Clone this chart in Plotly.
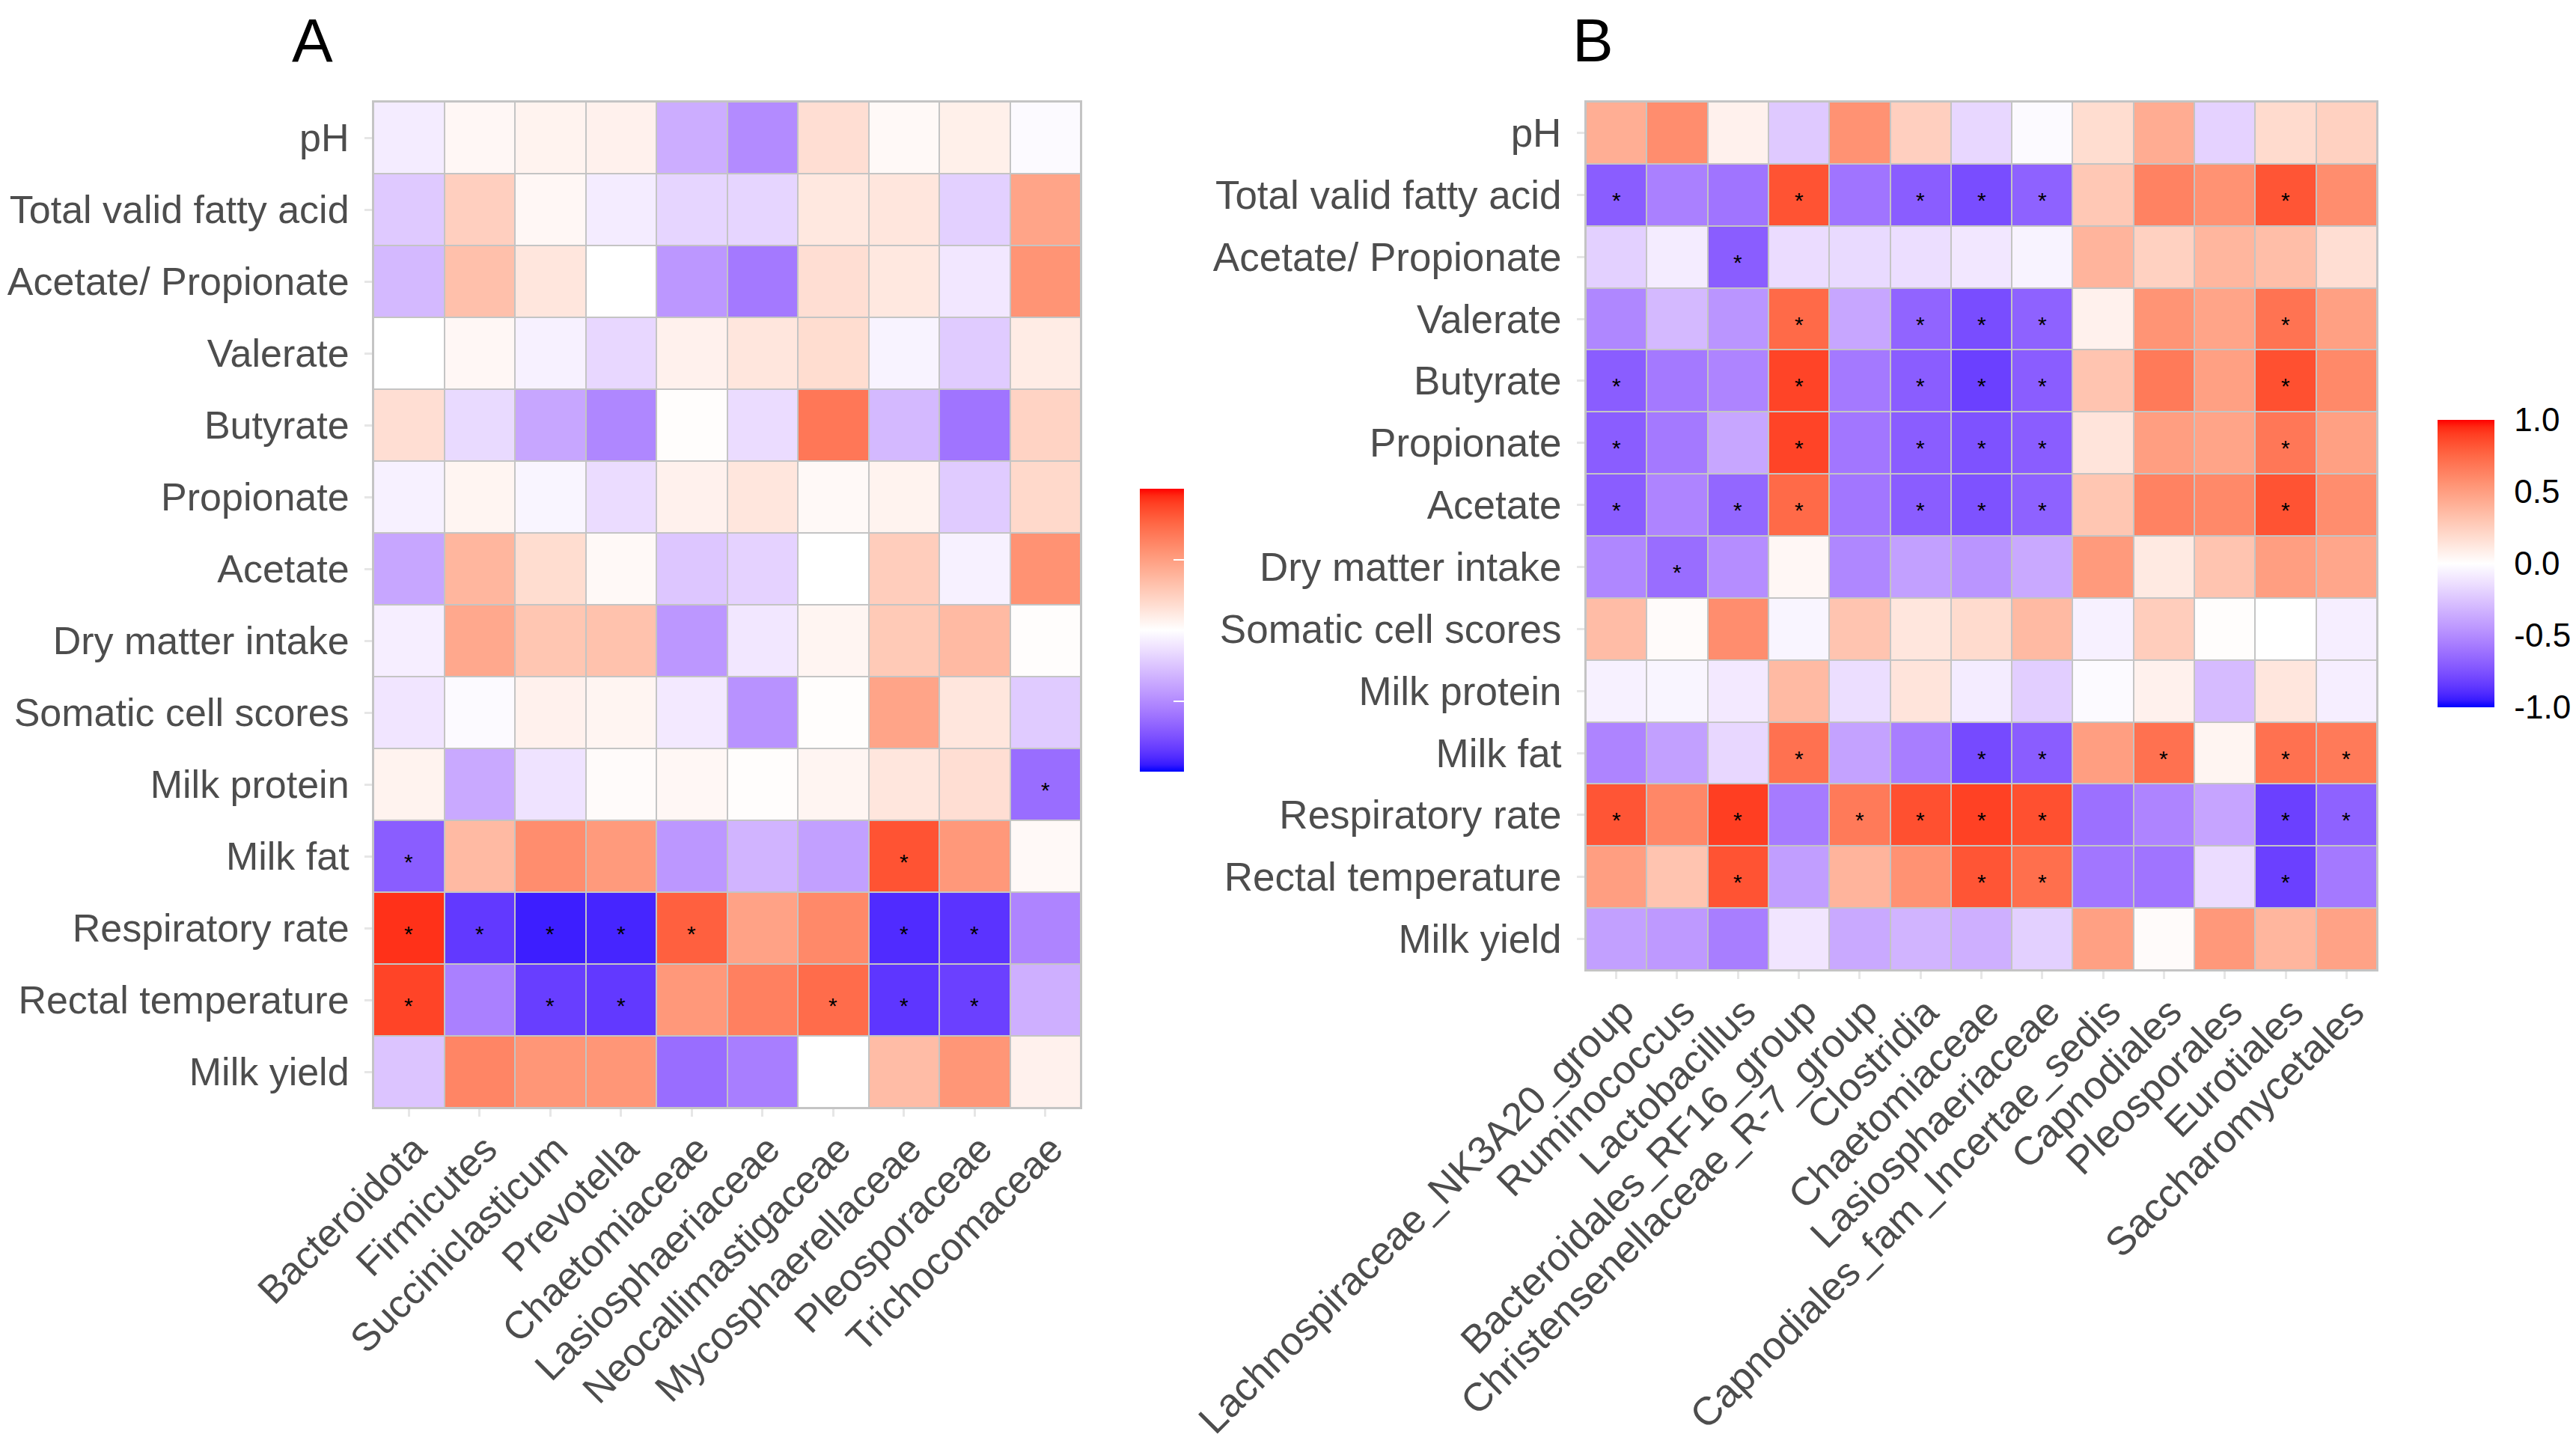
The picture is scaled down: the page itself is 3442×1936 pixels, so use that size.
import plotly.graph_objects as go

W, H = 3442, 1936

traits = ["pH", "Total valid fatty acid", "Acetate/ Propionate", "Valerate", "Butyrate",
          "Propionate", "Acetate", "Dry matter intake", "Somatic cell scores", "Milk protein",
          "Milk fat", "Respiratory rate", "Rectal temperature", "Milk yield"]

genera_a = ["Bacteroidota", "Firmicutes", "Succiniclasticum", "Prevotella", "Chaetomiaceae",
            "Lasiosphaeriaceae", "Neocallimastigaceae", "Mycosphaerellaceae", "Pleosporaceae",
            "Trichocomaceae"]

genera_b = ["Lachnospiraceae_NK3A20_group", "Ruminococcus", "Lactobacillus",
            "Bacteroidales_RF16_group", "Christensenellaceae_R-7_group", "Clostridia",
            "Chaetomiaceae", "Lasiosphaeriaceae", "Capnodiales_fam_Incertae_sedis",
            "Capnodiales", "Pleosporales", "Eurotiales", "Saccharomycetales"]

values_a = [
    [-0.08, 0.04, 0.06, 0.07, -0.35, -0.50, 0.17, 0.03, 0.08, -0.02],
    [-0.23, 0.25, 0.04, -0.08, -0.18, -0.18, 0.12, 0.13, -0.20, 0.47],
    [-0.30, 0.33, 0.13, 0.00, -0.45, -0.58, 0.17, 0.12, -0.10, 0.55],
    [0.00, 0.04, -0.06, -0.17, 0.07, 0.13, 0.18, -0.05, -0.22, 0.10],
    [0.17, -0.16, -0.38, -0.52, 0.01, -0.15, 0.68, -0.30, -0.60, 0.23],
    [-0.06, 0.05, -0.04, -0.15, 0.07, 0.13, 0.03, 0.06, -0.22, 0.20],
    [-0.38, 0.38, 0.18, 0.03, -0.24, -0.19, 0.00, 0.26, -0.06, 0.56],
    [-0.07, 0.45, 0.30, 0.32, -0.45, -0.10, 0.05, 0.28, 0.36, 0.01],
    [-0.11, -0.02, 0.07, 0.05, -0.09, -0.47, 0.01, 0.47, 0.13, -0.22],
    [0.06, -0.37, -0.12, 0.02, 0.04, 0.01, 0.05, 0.13, 0.17, -0.63],
    [-0.70, 0.36, 0.58, 0.52, -0.45, -0.32, -0.41, 0.83, 0.53, 0.03],
    [0.93, -0.85, -0.94, -0.92, 0.78, 0.48, 0.60, -0.90, -0.87, -0.53],
    [0.88, -0.55, -0.83, -0.85, 0.53, 0.64, 0.73, -0.86, -0.82, -0.34],
    [-0.25, 0.62, 0.54, 0.54, -0.63, -0.56, 0.00, 0.35, 0.54, 0.07],
]

sig_a = [
    [0, 0, 0, 0, 0, 0, 0, 0, 0, 0],
    [0, 0, 0, 0, 0, 0, 0, 0, 0, 0],
    [0, 0, 0, 0, 0, 0, 0, 0, 0, 0],
    [0, 0, 0, 0, 0, 0, 0, 0, 0, 0],
    [0, 0, 0, 0, 0, 0, 0, 0, 0, 0],
    [0, 0, 0, 0, 0, 0, 0, 0, 0, 0],
    [0, 0, 0, 0, 0, 0, 0, 0, 0, 0],
    [0, 0, 0, 0, 0, 0, 0, 0, 0, 0],
    [0, 0, 0, 0, 0, 0, 0, 0, 0, 0],
    [0, 0, 0, 0, 0, 0, 0, 0, 0, 1],
    [1, 0, 0, 0, 0, 0, 0, 1, 0, 0],
    [1, 1, 1, 1, 1, 0, 0, 1, 1, 0],
    [1, 0, 1, 1, 0, 0, 1, 1, 1, 0],
    [0, 0, 0, 0, 0, 0, 0, 0, 0, 0],
]

values_b = [
    [0.42, 0.58, 0.07, -0.23, 0.56, 0.25, -0.17, -0.02, 0.18, 0.43, -0.19, 0.19, 0.24],
    [-0.70, -0.55, -0.60, 0.83, -0.60, -0.70, -0.77, -0.68, 0.29, 0.63, 0.56, 0.82, 0.58],
    [-0.20, -0.08, -0.70, -0.15, -0.16, -0.14, -0.10, -0.05, 0.39, 0.24, 0.38, 0.34, 0.17],
    [-0.52, -0.30, -0.46, 0.74, -0.38, -0.67, -0.77, -0.68, 0.07, 0.55, 0.47, 0.70, 0.49],
    [-0.70, -0.58, -0.53, 0.88, -0.58, -0.70, -0.82, -0.70, 0.31, 0.67, 0.49, 0.84, 0.60],
    [-0.70, -0.58, -0.38, 0.88, -0.59, -0.70, -0.75, -0.70, 0.14, 0.50, 0.47, 0.68, 0.49],
    [-0.70, -0.53, -0.66, 0.74, -0.59, -0.70, -0.75, -0.68, 0.30, 0.63, 0.60, 0.83, 0.58],
    [-0.52, -0.63, -0.49, 0.04, -0.52, -0.41, -0.46, -0.37, 0.52, 0.11, 0.31, 0.50, 0.46],
    [0.35, 0.02, 0.58, -0.04, 0.31, 0.13, 0.19, 0.36, -0.06, 0.26, 0.01, 0.00, -0.07],
    [-0.06, -0.04, -0.09, 0.36, -0.14, 0.14, -0.08, -0.21, -0.02, 0.07, -0.29, 0.13, -0.07],
    [-0.53, -0.41, -0.17, 0.71, -0.40, -0.56, -0.78, -0.70, 0.50, 0.71, 0.05, 0.71, 0.67],
    [0.82, 0.61, 0.90, -0.57, 0.67, 0.84, 0.89, 0.84, -0.62, -0.53, -0.39, -0.82, -0.68],
    [0.50, 0.31, 0.83, -0.42, 0.39, 0.56, 0.82, 0.72, -0.59, -0.60, -0.15, -0.82, -0.58],
    [-0.41, -0.44, -0.56, -0.11, -0.37, -0.32, -0.34, -0.20, 0.49, 0.02, 0.53, 0.38, 0.48],
]

sig_b = [
    [0, 0, 0, 0, 0, 0, 0, 0, 0, 0, 0, 0, 0],
    [1, 0, 0, 1, 0, 1, 1, 1, 0, 0, 0, 1, 0],
    [0, 0, 1, 0, 0, 0, 0, 0, 0, 0, 0, 0, 0],
    [0, 0, 0, 1, 0, 1, 1, 1, 0, 0, 0, 1, 0],
    [1, 0, 0, 1, 0, 1, 1, 1, 0, 0, 0, 1, 0],
    [1, 0, 0, 1, 0, 1, 1, 1, 0, 0, 0, 1, 0],
    [1, 0, 1, 1, 0, 1, 1, 1, 0, 0, 0, 1, 0],
    [0, 1, 0, 0, 0, 0, 0, 0, 0, 0, 0, 0, 0],
    [0, 0, 0, 0, 0, 0, 0, 0, 0, 0, 0, 0, 0],
    [0, 0, 0, 0, 0, 0, 0, 0, 0, 0, 0, 0, 0],
    [0, 0, 0, 1, 0, 0, 1, 1, 0, 1, 0, 1, 1],
    [1, 0, 1, 0, 1, 1, 1, 1, 0, 0, 0, 1, 1],
    [0, 0, 1, 0, 0, 0, 1, 1, 0, 0, 0, 1, 0],
    [0, 0, 0, 0, 0, 0, 0, 0, 0, 0, 0, 0, 0],
]

colorbar_ticks = [-1.0, -0.5, 0.0, 0.5, 1.0]
colorbar_labels = ["-1.0", "-0.5", "0.0", "0.5", "1.0"]


# ---- Lab-interpolated blue-white-red gradient (like ggplot scale_fill_gradient2) ----
def _lin(c):
    c = c / 255.0
    return c / 12.92 if c <= 0.04045 else ((c + 0.055) / 1.055) ** 2.4


def _gam(c):
    c = max(0.0, min(1.0, c))
    v = 12.92 * c if c <= 0.0031308 else 1.055 * c ** (1 / 2.4) - 0.055
    return int(round(v * 255))


def rgb_to_lab(rgb):
    r, g, b = (_lin(v) for v in rgb)
    X = (0.4124 * r + 0.3576 * g + 0.1805 * b) / 0.95047
    Y = (0.2126 * r + 0.7152 * g + 0.0722 * b)
    Z = (0.0193 * r + 0.1192 * g + 0.9505 * b) / 1.08883

    def f(t):
        return t ** (1 / 3) if t > 0.008856 else 7.787 * t + 16 / 116
    fx, fy, fz = f(X), f(Y), f(Z)
    return (116 * fy - 16, 500 * (fx - fy), 200 * (fy - fz))


def lab_to_rgb(lab):
    L, a, b = lab
    fy = (L + 16) / 116
    fx = fy + a / 500
    fz = fy - b / 200

    def finv(t):
        return t ** 3 if t ** 3 > 0.008856 else (t - 16 / 116) / 7.787
    X, Y, Z = 0.95047 * finv(fx), finv(fy), 1.08883 * finv(fz)
    r = 3.2406 * X - 1.5372 * Y - 0.4986 * Z
    g = -0.9689 * X + 1.8758 * Y + 0.0415 * Z
    bb = 0.0557 * X - 0.2040 * Y + 1.0570 * Z
    return "rgb(%d,%d,%d)" % (_gam(r), _gam(g), _gam(bb))


lab_w = rgb_to_lab((255, 255, 255))
lab_b = rgb_to_lab((0, 0, 255))
lab_r = rgb_to_lab((255, 0, 0))
colorscale = []
N = 40
for i in range(N + 1):
    p = i / N
    v = -1 + 2 * p
    end = lab_b if v < 0 else lab_r
    t = abs(v)
    lab = tuple(lab_w[k] + t * (end[k] - lab_w[k]) for k in range(3))
    colorscale.append([p, lab_to_rgb(lab)])

FONT = "Liberation Sans, Arial, sans-serif"
LAB_COLOR = "#4D4D4D"
GRID = "#C4C4C4"

fig = go.Figure()
fig.add_trace(go.Heatmap(z=values_a, x=genera_a, y=traits, coloraxis="coloraxis",
                         xgap=2, ygap=2, xaxis="x", yaxis="y", hoverinfo="skip"))
fig.add_trace(go.Heatmap(z=values_b, x=genera_b, y=traits, coloraxis="coloraxis2",
                         xgap=2, ygap=2, xaxis="x2", yaxis="y2", hoverinfo="skip"))


def xax(dom, anchor, fs):
    return dict(domain=dom, anchor=anchor, type="category", showgrid=False, zeroline=False,
                automargin=False,
                showline=True, mirror=True, linecolor=GRID, linewidth=2,
                ticks="outside", ticklen=10, tickwidth=3, tickcolor="#E6E6E6",
                tickangle=-45, ticklabelstandoff=-8, ticklabelshift=8,
                tickfont=dict(family=FONT, size=fs, color=LAB_COLOR))


def yax(dom, anchor, fs):
    return dict(domain=dom, anchor=anchor, type="category", autorange="reversed",
                showgrid=False, zeroline=False, automargin=False,
                showline=True, mirror=True, linecolor=GRID, linewidth=2,
                ticks="outside", ticklen=10, tickwidth=3, tickcolor="#E6E6E6",
                ticklabelstandoff=10,
                tickfont=dict(family=FONT, size=fs, color=LAB_COLOR))


fig.update_layout(
    width=W, height=H,
    margin=dict(l=0, r=0, t=0, b=0, autoexpand=False),
    paper_bgcolor="white", plot_bgcolor=GRID,
    xaxis=xax([499 / W, 1444 / W], "y", 52),
    yaxis=yax([1 - 1480 / H, 1 - 136 / H], "x", 52),
    xaxis2=xax([2119 / W, 3176 / W], "y2", 53),
    yaxis2=yax([1 - 1296 / H, 1 - 136 / H], "x2", 53),
    coloraxis=dict(colorscale=colorscale, cmin=-1, cmax=1,
                   colorbar=dict(x=1523 / W, xanchor="left", y=1 - 842 / H, yanchor="middle",
                                 len=378 / H, lenmode="fraction", thickness=59,
                                 xpad=0, ypad=0, outlinewidth=0,
                                 tickvals=colorbar_ticks, ticks="inside", ticklen=14,
                                 tickcolor="white", tickwidth=2, showticklabels=False)),
    coloraxis2=dict(colorscale=colorscale, cmin=-1, cmax=1,
                    colorbar=dict(x=3257 / W, xanchor="left", y=1 - 753 / H, yanchor="middle",
                                  len=384 / H, lenmode="fraction", thickness=76,
                                  xpad=0, ypad=0, outlinewidth=0,
                                  tickvals=colorbar_ticks, ticktext=colorbar_labels,
                                  ticks="outside", ticklen=18, tickcolor="white", tickwidth=2,
                                  tickfont=dict(family=FONT, size=44, color="black"))),
    showlegend=False,
)

annotations = []
for sig, genera, xr, yr in [(sig_a, genera_a, "x", "y"), (sig_b, genera_b, "x2", "y2")]:
    for i, row in enumerate(sig):
        for j, s in enumerate(row):
            if s:
                annotations.append(dict(x=genera[j], y=traits[i], xref=xr, yref=yr, text="*",
                                        showarrow=False, yshift=-7,
                                        font=dict(family=FONT, size=30, color="black")))

annotations.append(dict(x=388 / W, y=1 - 6 / H, xref="paper", yref="paper", text="A",
                        xanchor="left", yanchor="top", showarrow=False,
                        font=dict(family=FONT, size=82, color="black")))
annotations.append(dict(x=2099 / W, y=1 - 6 / H, xref="paper", yref="paper", text="B",
                        xanchor="left", yanchor="top", showarrow=False,
                        font=dict(family=FONT, size=82, color="black")))
fig.update_layout(annotations=annotations)

fig.write_html("out.html", config={"displayModeBar": False},
               post_script="document.body.style.margin='0';document.body.style.padding='0';")
